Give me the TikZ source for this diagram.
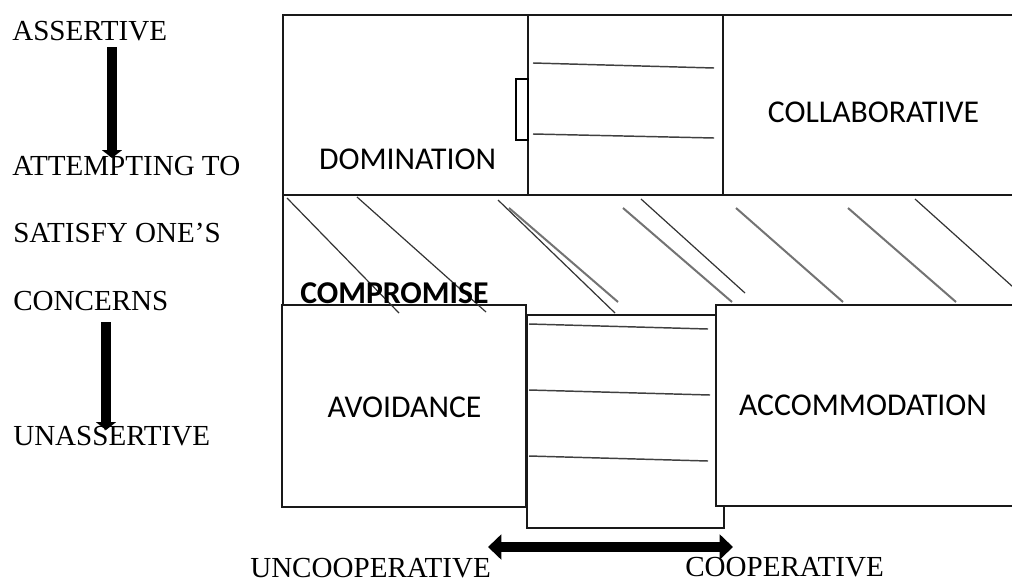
\documentclass[tikz,border=0pt]{standalone}
\usepackage{fontspec}
\usetikzlibrary{arrows.meta}
\newfontfamily\tnrfont{Liberation Serif}
\newfontfamily\calfont{Carlito}
\begin{document}
\begin{tikzpicture}[x=0.75pt,y=-0.75pt,
  serif/.style={font=\tnrfont\fontsize{21.8pt}{25pt}\selectfont,inner sep=0pt,anchor=base west},
  boxlabel/.style={font=\calfont\fontsize{23.8pt}{28pt}\selectfont,inner sep=0pt,anchor=base},
  frame/.style={line width=2.1pt,draw=black!90},
  thinhatch/.style={line width=0.9pt,draw=black!80},
  grayhatch/.style={line width=1.5pt,draw=black!55},
  rule/.style={line width=1.1pt,draw=black!75},
  vdown/.style={line width=7.5pt,-{Triangle[length=6pt,width=15pt]}},
  hboth/.style={line width=7.5pt,{Triangle[length=10pt,width=18.5pt]}-{Triangle[length=10pt,width=18.5pt]}}]
\useasboundingbox (0,0) rectangle (1012,582);
\fill[white] (0,0) rectangle (1012,582);

% top row
\draw[frame] (1014,15) -- (283,15) -- (283,305);
\draw[frame] (283,195) -- (1014,195);
\draw[frame] (528,15) -- (528,195);
\draw[frame] (723,15) -- (723,195);
\draw[line width=1pt] (516,79) rectangle (528,140);
\draw[rule] (533,63) -- (714,68);
\draw[rule] (533,134) -- (714,138);

% lower middle box
\draw[frame,fill=white] (527,315) rectangle (724,528);
\draw[rule] (529,324) -- (708,329);
\draw[rule] (529,390) -- (710,395);
\draw[rule] (529,456) -- (708,461);
% avoidance box
\draw[frame,fill=white] (282,305) rectangle (526,507);
% accommodation box
\fill[white] (716,305) rectangle (1014,506);
\draw[frame] (1014,305) -- (716,305) -- (716,506) -- (1014,506);

% hatching in compromise band
\draw[thinhatch] (287,198) -- (399,313);
\draw[thinhatch] (357,197) -- (486,312);
\draw[thinhatch] (498,200) -- (615,313);
\draw[grayhatch] (509,208) -- (618,302);
\draw[grayhatch] (623,208) -- (732,302);
\draw[thinhatch] (641,199) -- (745,293);
\draw[grayhatch] (736,208) -- (843,302);
\draw[grayhatch] (848,208) -- (956,302);
\draw[thinhatch] (915,199) -- (1013,287);

% box labels
\node[boxlabel] (domination) at (407.5,169) {DOMINATION};
\node[boxlabel] (collab) at (873.5,122) {COLLABORATIVE};
\node[boxlabel,anchor=base west,font=\calfont\bfseries\fontsize{23.8pt}{28pt}\selectfont] (compromise) at (300,303) {COMPROMISE};
\node[boxlabel] (avoidance) at (404.5,417) {AVOIDANCE};
\node[boxlabel] (accommodation) at (863,415) {ACCOMMODATION};

% left labels
\node[serif] (assertive) at (12,40) {ASSERTIVE};
\node[serif] (attempting) at (12,175) {ATTEMPTING TO};
\node[serif] (satisfy) at (13,242) {SATISFY ONE’S};
\node[serif] (concerns) at (13,310) {CONCERNS};
\node[serif] (unassertive) at (13,445) {UNASSERTIVE};

% bottom labels
\node[serif] (uncoop) at (250,577) {UNCOOPERATIVE};
\node[serif] (coop) at (685,576) {COOPERATIVE};

% arrows
\coordinate (a1s) at (112,47);
\coordinate (a1e) at (112,158);
\coordinate (a2s) at (106,322);
\coordinate (a2e) at (106,430);
\coordinate (hl) at (488,547);
\coordinate (hr) at (733,547);
\draw[vdown] (a1s) -- (a1e);
\draw[vdown] (a2s) -- (a2e);
\draw[hboth] (hl) -- (hr);
\end{tikzpicture}
\end{document}
